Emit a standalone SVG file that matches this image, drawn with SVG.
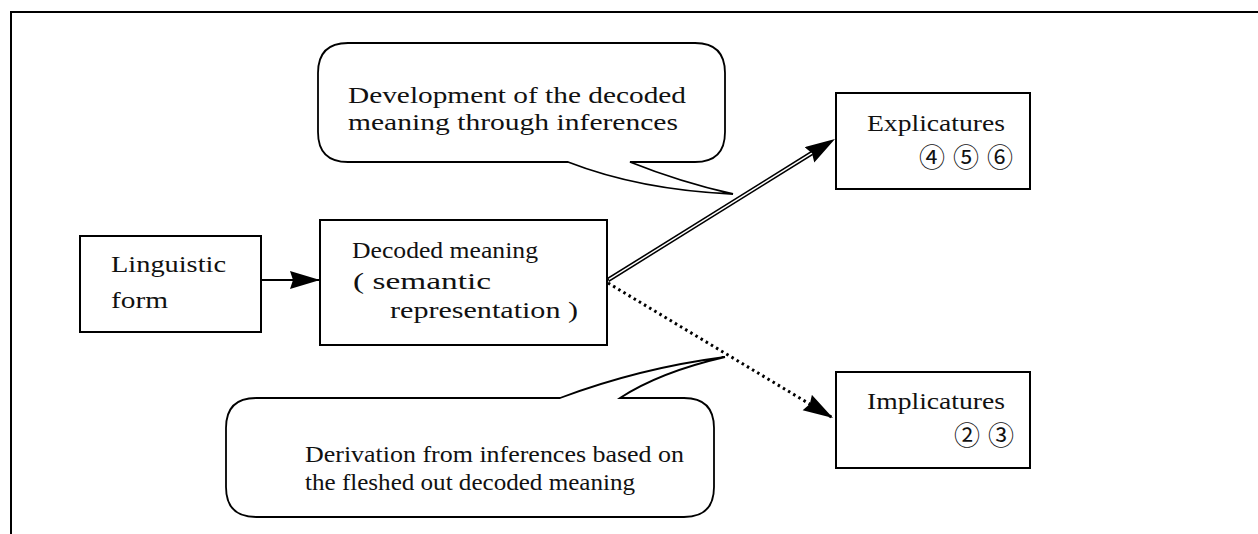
<svg xmlns="http://www.w3.org/2000/svg" width="1258" height="534" viewBox="0 0 1258 534">
<style>
  .box { fill: #fff; stroke: #000; stroke-width: 2; }
  .callout { fill: #fff; stroke: #000; stroke-width: 1.8; }
  .t { font-family: 'Liberation Serif', 'DejaVu Serif', serif; font-size: 24px; fill: #111; }
  .c { font-family: 'Noto Sans CJK JP', 'DejaVu Sans', sans-serif; font-size: 26px; fill: #111; }
  .frame { fill: none; stroke: #000; stroke-width: 2; }
</style>
<defs>
  <marker id="head" markerUnits="userSpaceOnUse" markerWidth="32" markerHeight="20" refX="30" refY="9" orient="auto">
    <path d="M0,0 L30,9 L0,18 L3,9 Z" fill="#000"/>
  </marker>
</defs>
<path class="frame" d="M11,534 V12 H1258"/>

<g id="callout-top">
  <path class="callout" d="M348,43 H695 Q725,43 725,73 V132 Q725,162 695,162 H630 Q680,182 733,194 Q640,190 568,162 H348 Q318,162 318,132 V73 Q318,43 348,43 Z"/>
  <text class="t" x="348" y="103" textLength="338" lengthAdjust="spacingAndGlyphs">Development of the decoded</text>
  <text class="t" x="348" y="130" textLength="330" lengthAdjust="spacingAndGlyphs">meaning through inferences</text>
</g>

<g id="callout-bottom">
  <path class="callout" d="M256,398 H560 Q640,368 725,357 Q660,372 620,398 H684 Q714,398 714,428 V487 Q714,517 684,517 H256 Q226,517 226,487 V428 Q226,398 256,398 Z"/>
  <text class="t" x="305" y="462" textLength="379" lengthAdjust="spacingAndGlyphs">Derivation from inferences based on</text>
  <text class="t" x="305" y="490" textLength="330" lengthAdjust="spacingAndGlyphs">the fleshed out decoded meaning</text>
</g>

<g id="linguistic-form">
  <rect class="box" x="80" y="236" width="181" height="96"/>
  <text class="t" x="111" y="272" textLength="115" lengthAdjust="spacingAndGlyphs">Linguistic</text>
  <text class="t" x="111" y="308" textLength="57" lengthAdjust="spacingAndGlyphs">form</text>
</g>

<g id="decoded-meaning">
  <rect class="box" x="320" y="220" width="287" height="125"/>
  <text class="t" x="352" y="258" textLength="186" lengthAdjust="spacingAndGlyphs">Decoded meaning</text>
  <text class="t" x="353" y="289" textLength="138" lengthAdjust="spacingAndGlyphs">( semantic</text>
  <text class="t" x="390" y="318" textLength="188" lengthAdjust="spacingAndGlyphs">representation )</text>
</g>

<g id="explicatures">
  <rect class="box" x="836" y="93" width="194" height="96"/>
  <text class="t" x="867" y="131" textLength="138" lengthAdjust="spacingAndGlyphs">Explicatures</text>
  <text class="c" x="919" y="167">④</text>
  <text class="c" x="953" y="167">⑤</text>
  <text class="c" x="987" y="167">⑥</text>
</g>

<g id="implicatures">
  <rect class="box" x="836" y="372" width="194" height="96"/>
  <text class="t" x="867" y="409" textLength="138" lengthAdjust="spacingAndGlyphs">Implicatures</text>
  <text class="c" x="954" y="445">②</text>
  <text class="c" x="988" y="445">③</text>
</g>

<g id="connectors">
  <line x1="261" y1="280" x2="320" y2="280" stroke="#000" stroke-width="1.8" marker-end="url(#head)"/>
  <line x1="608" y1="280" x2="812" y2="153" stroke="#000" stroke-width="4.5"/>
  <line x1="609" y1="279.4" x2="813" y2="152.4" stroke="#fff" stroke-width="1.4"/>
  <path d="M608,280 L835,139" fill="none" stroke="none" marker-end="url(#head)"/>
  <line x1="608" y1="283" x2="833" y2="418" stroke="#000" stroke-width="3" stroke-dasharray="2.5 3.5" marker-end="url(#head)"/>
</g>
</svg>
